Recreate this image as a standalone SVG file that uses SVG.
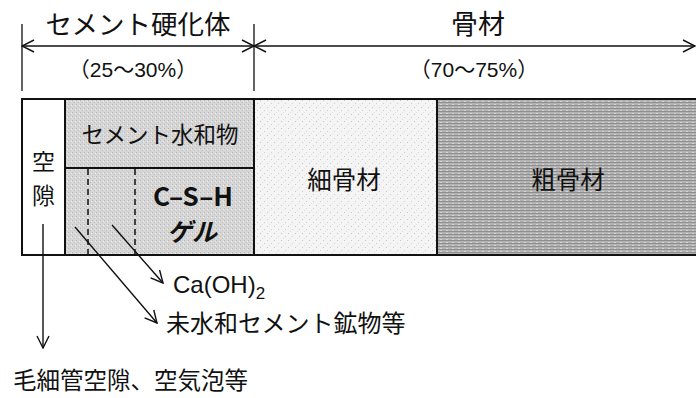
<svg xmlns="http://www.w3.org/2000/svg" width="696" height="398" viewBox="0 0 696 398">
<style>
.jp{font-family:"Noto Sans CJK JP","Noto Sans",sans-serif;fill:#111}
.lat{font-family:"Liberation Sans","Noto Sans CJK JP",Arial,sans-serif;fill:#111}
.ln{stroke:#111;fill:none}
.box{stroke:#111;stroke-width:2}
</style>
<defs>
<marker id="ah" viewBox="0 0 14 14" refX="13" refY="7" markerWidth="14" markerHeight="14" markerUnits="userSpaceOnUse" orient="auto-start-reverse">
<path d="M1,1 L13,7 L1,13" fill="none" stroke="#111" stroke-width="1.4"/>
</marker>
<pattern id="pCem" width="4" height="4" patternUnits="userSpaceOnUse">
<rect width="4" height="4" fill="#d6d6d6"/>
<rect x="0" y="0" width="1" height="1" fill="#b8b8b8"/>
<rect x="2" y="2" width="1" height="1" fill="#c2c2c2"/>
<rect x="3" y="1" width="1" height="1" fill="#eeeeee"/>
</pattern>
<pattern id="pFine" width="7" height="7" patternUnits="userSpaceOnUse">
<rect width="7" height="7" fill="#f4f4f4"/>
<rect x="1" y="2" width="1" height="1" fill="#c8c8c8"/>
<rect x="5" y="5" width="1" height="1" fill="#d0d0d0"/>
<rect x="3" y="0" width="1" height="1" fill="#e0e0e0"/>
</pattern>
<pattern id="pCoarse" width="6" height="3" patternUnits="userSpaceOnUse">
<rect width="6" height="3" fill="#b4b4b4"/>
<rect x="0" y="0" width="6" height="1" fill="#8e8e8e"/>
<rect x="2" y="2" width="2" height="1" fill="#d4d4d4"/>
</pattern>
</defs>

<g id="dimension">
<line class="ln" x1="22" y1="24" x2="22" y2="91" stroke-width="1.3"/>
<line class="ln" x1="254" y1="24" x2="254" y2="91" stroke-width="1.3"/>
<line class="ln" x1="22" y1="46" x2="254" y2="46" stroke-width="1.3" marker-start="url(#ah)" marker-end="url(#ah)"/>
<line class="ln" x1="254" y1="46" x2="695" y2="46" stroke-width="1.3" marker-start="url(#ah)" marker-end="url(#ah)"/>
<text class="jp" x="138" y="34" font-size="26.5" text-anchor="middle">セメント硬化体</text>
<text class="lat" x="133" y="77" font-size="21" text-anchor="middle">（25～30%）</text>
<text class="jp" x="478" y="34" font-size="27" text-anchor="middle">骨材</text>
<text class="lat" x="474" y="77" font-size="21" text-anchor="middle">（70～75%）</text>
</g>

<g id="void">
<rect class="box" x="22" y="99" width="43" height="156" fill="#ffffff"/>
<text class="jp" x="43.5" y="170" font-size="23" text-anchor="middle">空</text>
<text class="jp" x="43.5" y="204" font-size="23" text-anchor="middle">隙</text>
</g>

<g id="cement-hydrate">
<rect class="box" x="65" y="99" width="189" height="69" fill="url(#pCem)"/>
<text class="jp" x="160" y="143" font-size="22.5" text-anchor="middle">セメント水和物</text>
</g>

<g id="csh-gel">
<rect class="box" x="65" y="168" width="189" height="87" fill="url(#pCem)"/>
<line class="ln" x1="88" y1="169" x2="88" y2="254" stroke-width="1.5" stroke-dasharray="6,4"/>
<line class="ln" x1="135" y1="169" x2="135" y2="254" stroke-width="1.5" stroke-dasharray="6,4"/>
<text class="jp" x="193" y="206" font-size="26" font-weight="bold" text-anchor="middle">C–S–H</text>
<text class="jp" x="192" y="241" font-size="25" font-weight="bold" font-style="italic" text-anchor="middle">ゲル</text>
</g>

<g id="fine-aggregate">
<rect class="box" x="254" y="99" width="183" height="156" fill="url(#pFine)"/>
<text class="jp" x="344" y="189" font-size="24.5" text-anchor="middle">細骨材</text>
</g>

<g id="coarse-aggregate">
<rect class="box" x="437" y="99" width="262" height="156" fill="url(#pCoarse)"/>
<text class="jp" x="568" y="189" font-size="24.5" text-anchor="middle">粗骨材</text>
</g>

<g id="connectors">
<line class="ln" x1="43" y1="224" x2="43" y2="348" stroke-width="1.4" marker-end="url(#ah)"/>
<line class="ln" x1="75" y1="227" x2="157" y2="323" stroke-width="1.4" marker-end="url(#ah)"/>
<line class="ln" x1="112" y1="225" x2="163" y2="283" stroke-width="1.4" marker-end="url(#ah)"/>
</g>

<g id="labels">
<text class="lat" x="173" y="293" font-size="24">Ca(OH)<tspan font-size="17" dy="6">2</tspan></text>
<text class="jp" x="166" y="332" font-size="24">未水和セメント鉱物等</text>
<text class="jp" x="13" y="389" font-size="23.5">毛細管空隙、空気泡等</text>
</g>
</svg>
